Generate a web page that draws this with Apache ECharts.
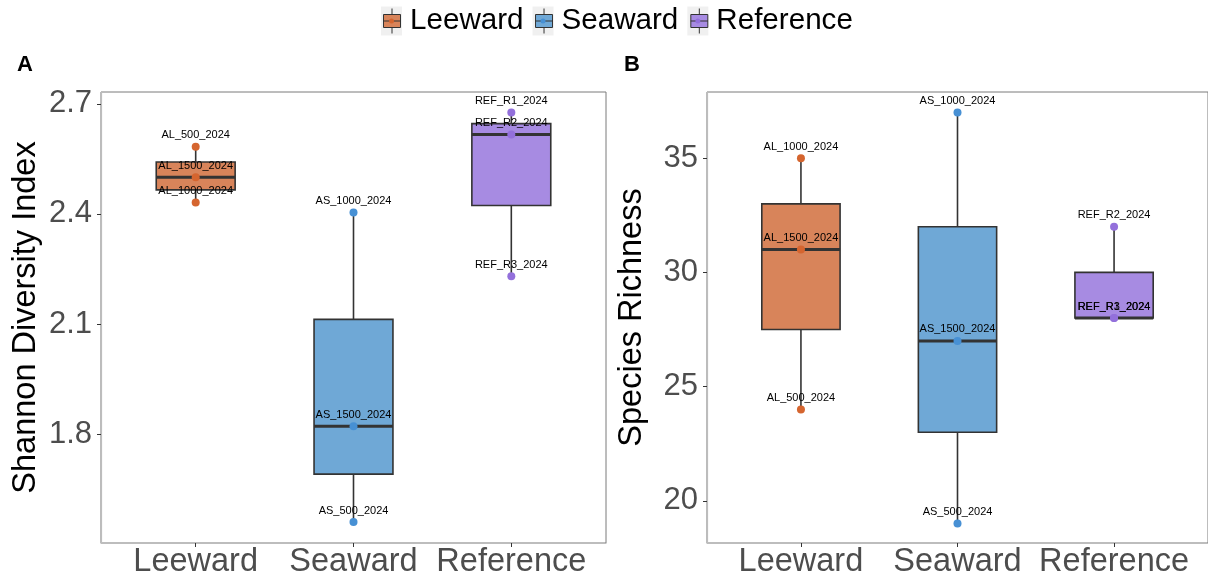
<!DOCTYPE html>
<html>
<head>
<meta charset="utf-8">
<script src="https://cdn.jsdelivr.net/npm/echarts@6/dist/echarts.min.js"></script>
<style>
  html, body { margin: 0; padding: 0; background: #fff; }
  #main { width: 1208px; height: 580px; }
</style>
</head>
<body>
<div id="main"></div>
<script>
var groups = ['Leeward', 'Seaward', 'Reference'];

// sample names, in the same order as the values below
var sampleLeeward = ['AL_500_2024', 'AL_1000_2024', 'AL_1500_2024'];
var sampleSeaward = ['AS_500_2024', 'AS_1000_2024', 'AS_1500_2024'];
var sampleReference = ['REF_R1_2024', 'REF_R2_2024', 'REF_R3_2024'];

// panel A: Shannon diversity
var shannonLeeward = [2.583, 2.431, 2.500];
var shannonSeaward = [1.561, 2.404, 1.822];
var shannonReference = [2.676, 2.616, 2.230];

// panel B: species richness
var richnessLeeward = [24, 35, 31];
var richnessSeaward = [19, 37, 27];
var richnessReference = [28, 32, 28];

var shannonTicks = [1.8, 2.1, 2.4, 2.7];
var richnessTicks = [20, 25, 30, 35];

var boxFill = ['#D8845A', '#6FA8D6', '#A78BE2'];
var pointColor = ['#D5652F', '#4790D4', '#9370DB'];
var font = '"Liberation Sans", Arial, Helvetica, sans-serif';

var samples = [sampleLeeward, sampleSeaward, sampleReference];
var shannon = [shannonLeeward, shannonSeaward, shannonReference];
var richness = [richnessLeeward, richnessSeaward, richnessReference];

function renderBox(params, api) {
    var x = api.value(0);
    var lo = api.coord([x, api.value(1)]);
    var q1 = api.coord([x, api.value(2)]);
    var md = api.coord([x, api.value(3)]);
    var q3 = api.coord([x, api.value(4)]);
    var hi = api.coord([x, api.value(5)]);
    var w = api.size([0.5, 0])[0];
    var stroke = '#333333';
    return {
        type: 'group',
        children: [
            { type: 'line', shape: { x1: lo[0], y1: lo[1], x2: q1[0], y2: q1[1] }, style: { stroke: stroke, lineWidth: 1.6 } },
            { type: 'line', shape: { x1: q3[0], y1: q3[1], x2: hi[0], y2: hi[1] }, style: { stroke: stroke, lineWidth: 1.6 } },
            { type: 'rect', shape: { x: q1[0] - w / 2, y: q3[1], width: w, height: q1[1] - q3[1] },
              style: { fill: boxFill[params.dataIndex], stroke: stroke, lineWidth: 1.6 } },
            { type: 'line', shape: { x1: md[0] - w / 2, y1: md[1], x2: md[0] + w / 2, y2: md[1] }, style: { stroke: stroke, lineWidth: 3 } }
        ]
    };
}

function pointSeries(values, panel) {
    return groups.map(function (g, k) {
        return {
            type: 'scatter',
            name: g,
            xAxisIndex: panel,
            yAxisIndex: panel,
            z: 5,
            symbolSize: 8,
            itemStyle: { color: pointColor[k], opacity: 1 },
            data: values[k].map(function (v, i) { return [k + 1, v, samples[k][i]]; }),
            label: {
                show: true,
                position: 'top',
                distance: 2,
                formatter: function (p) { return p.data[2]; },
                fontSize: 11,
                color: '#000',
                fontFamily: font
            }
        };
    });
}

function xAxisFor(panel) {
    return {
        type: 'value',
        gridIndex: panel,
        min: 0.4,
        max: 3.6,
        splitLine: { show: false },
        axisLine: { show: true, onZero: false, lineStyle: { color: '#bdbdbd', width: 1.2 } },
        axisTick: { show: true, customValues: [1, 2, 3], length: 4, lineStyle: { color: '#333' } },
        axisLabel: {
            customValues: [1, 2, 3],
            formatter: function (v) { return groups[Math.round(v) - 1]; },
            fontSize: 32.5, color: '#4D4D4D', fontFamily: font, margin: 3
        }
    };
}

function yAxisFor(panel, name, min, max, ticks, digits) {
    return {
        type: 'value',
        gridIndex: panel,
        min: min,
        max: max,
        name: name,
        nameLocation: 'middle',
        nameGap: 58,
        nameTextStyle: { fontSize: 32.5, color: '#000', fontFamily: font },
        splitLine: { show: false },
        axisLine: { show: true, onZero: false, lineStyle: { color: '#bdbdbd', width: 1.2 } },
        axisTick: { show: true, customValues: ticks, length: 4, lineStyle: { color: '#333' } },
        axisLabel: {
            customValues: ticks,
            formatter: function (v) { return v.toFixed(digits); },
            fontSize: 31, color: '#4D4D4D', fontFamily: font, margin: 9
        }
    };
}

function legendFor(icon, textColor, styleFn) {
    return {
        left: 381,
        top: 6,
        padding: 0,
        itemWidth: 21,
        itemHeight: 29,
        itemGap: 9,
        selectedMode: false,
        icon: icon,
        data: groups.map(function (g, k) { return { name: g, itemStyle: styleFn(k) }; }),
        textStyle: { fontSize: 29.6, color: textColor, fontFamily: font, padding: [0, 0, 0, 3] }
    };
}

var chart = echarts.init(document.getElementById('main'), null, { renderer: 'canvas' });

var option = {
    animation: false,
    backgroundColor: '#fff',
    title: [
        { text: 'A', left: 17, top: 54, padding: 0, textStyle: { fontSize: 22, fontWeight: 'bold', color: '#000', fontFamily: font } },
        { text: 'B', left: 624, top: 54, padding: 0, textStyle: { fontSize: 22, fontWeight: 'bold', color: '#000', fontFamily: font } }
    ],
    legend: [
        // grey key background
        legendFor('rect', 'rgba(0,0,0,0)', function () {
            return { color: '#F0F0F0', borderWidth: 0 };
        }),
        // box glyph
        legendFor('path://M0,0 M21,29 M2,8 H19 V21 H2 Z M10.5,2 V8 M10.5,21 V27 M2,14.5 H19', 'rgba(0,0,0,0)', function (k) {
            return { color: boxFill[k], borderColor: '#333', borderWidth: 1 };
        }),
        // point in the key, with the visible text
        legendFor('path://M0,0 M21,29 M8,14.5 A2.5,2.5 0 1,0 13,14.5 A2.5,2.5 0 1,0 8,14.5 Z', '#000', function (k) {
            return { color: pointColor[k], borderWidth: 0 };
        })
    ],
    grid: [
        { left: 101, top: 92, width: 505, height: 451, show: true, borderColor: '#7a7a7a', borderWidth: 1, containLabel: false },
        { left: 707, top: 92, width: 505, height: 451, show: true, borderColor: '#7a7a7a', borderWidth: 1, containLabel: false }
    ],
    dataset: [
        { source: shannon },
        { fromDatasetIndex: 0, transform: { type: 'boxplot', config: { itemNameFormatter: function (p) { return p.value + 1; } } } },
        { source: richness },
        { fromDatasetIndex: 2, transform: { type: 'boxplot', config: { itemNameFormatter: function (p) { return p.value + 1; } } } }
    ],
    xAxis: [xAxisFor(0), xAxisFor(1)],
    yAxis: [
        yAxisFor(0, 'Shannon Diversity Index', 1.504, 2.732, shannonTicks, 1),
        yAxisFor(1, 'Species Richness', 18.15, 37.9, richnessTicks, 0)
    ],
    series: [
        { type: 'custom', datasetIndex: 1, xAxisIndex: 0, yAxisIndex: 0, z: 2,
          encode: { x: 0, y: [1, 2, 3, 4, 5] }, renderItem: renderBox },
        { type: 'custom', datasetIndex: 3, xAxisIndex: 1, yAxisIndex: 1, z: 2,
          encode: { x: 0, y: [1, 2, 3, 4, 5] }, renderItem: renderBox }
    ].concat(pointSeries(shannon, 0), pointSeries(richness, 1))
};

chart.setOption(option);
</script>
</body>
</html>
